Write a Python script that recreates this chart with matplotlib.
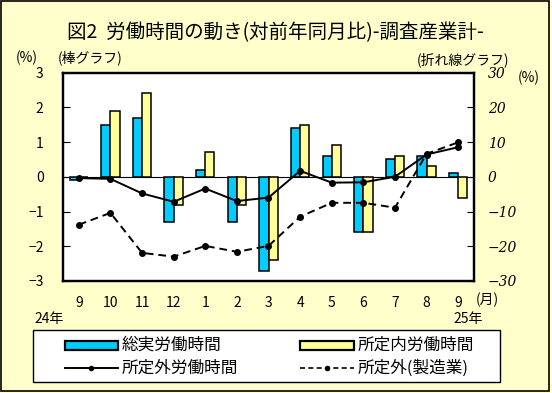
import numpy as np
import matplotlib
matplotlib.use('Agg')
import matplotlib.pyplot as plt
from matplotlib.patches import Rectangle
from matplotlib.lines import Line2D

plt.rcParams['font.family'] = ['Noto Sans CJK JP', 'DejaVu Sans']

# data
months = ['9', '10', '11', '12', '1', '2', '3', '4', '5', '6', '7', '8', '9']
total_hours = [-0.1, 1.5, 1.7, -1.3, 0.2, -1.3, -2.7, 1.4, 0.6, -1.6, 0.5, 0.6, 0.1]
scheduled_hours = [0.0, 1.9, 2.4, -0.8, 0.7, -0.8, -2.4, 1.5, 0.9, -1.6, 0.6, 0.3, -0.6]
overtime = [-0.4, -0.6, -4.8, -7.2, -3.4, -7.0, -6.0, 1.7, -1.7, -1.6, 0.0, 6.4, 8.5]
overtime_mfg = [-13.8, -10.4, -21.9, -23.0, -19.9, -21.6, -19.9, -11.5, -7.5, -7.5, -8.9, 6.6, 9.9]
legend_labels = ['総実労働時間', '所定内労働時間', '所定外労働時間', '所定外(製造業)']

W, H = 552, 393
bg = '#FFFFCC'
blue = '#00CCFF'
yellow = '#FFFF99'

fig = plt.figure(figsize=(W / 100, H / 100), dpi=100, facecolor=bg)

def fx(px):
    return px / W

def fy(py):
    return 1 - py / H

ax = fig.add_axes([fx(63), fy(281), fx(474) - fx(63), fy(72.5) - fy(281)])
ax.set_facecolor('white')

x = np.arange(len(months))
bw = 0.29
ax.bar(x - bw / 2, total_hours, bw, color=blue, edgecolor='black', linewidth=1.1, zorder=2)
ax.bar(x + bw / 2, scheduled_hours, bw, color=yellow, edgecolor='black', linewidth=1.1, zorder=2)
ax.axhline(0, color='black', linewidth=0.8, zorder=1)
ax.set_xlim(-0.5, len(months) - 0.5)
ax.set_ylim(-3, 3)
ax.set_yticks([-3, -2, -1, 0, 1, 2, 3])
ax.set_yticklabels(['\u22123', '\u22122', '\u22121', '0', '1', '2', '3'])
ax.tick_params(axis='y', direction='in', length=5, width=0.8, pad=14, labelsize=10)
ax.set_xticks(x)
ax.set_xticklabels(months)
ax.tick_params(axis='x', length=0, pad=11, labelsize=10)
for s in ax.spines.values():
    s.set_linewidth(1.6)

ax2 = ax.twinx()
ax2.plot(x, overtime, color='black', linewidth=1.4, marker='o', markersize=4, zorder=3)
ax2.plot(x, overtime_mfg, color='black', linewidth=1.4, linestyle=(0, (4, 2.5)),
         marker='o', markersize=4, zorder=3)
ax2.set_ylim(-30, 30)
ax2.set_yticks([-30, -20, -10, 0, 10, 20, 30])
ax2.set_yticklabels(['\u221230', '\u221220', '\u221210', '0', '10', '20', '30'],
                    fontstyle='italic', family='DejaVu Serif')
ax2.tick_params(axis='y', direction='in', length=5, width=0.8, pad=10, labelsize=10)
for s in ax2.spines.values():
    s.set_linewidth(1.6)

# titles and annotations
fig.text(fx(275), fy(33), '図2  労働時間の動き(対前年同月比)-調査産業計-',
         ha='center', va='center', fontsize=14)
fig.text(fx(27), fy(58), '(%)', ha='center', va='center', fontsize=10)
fig.text(fx(58), fy(58), '(棒グラフ)', ha='left', va='center', fontsize=10)
fig.text(fx(509), fy(60), '(折れ線グラフ)', ha='right', va='center', fontsize=10)
fig.text(fx(529), fy(78), '(%)', ha='center', va='center', fontsize=10)
fig.text(fx(487), fy(300), '(月)', ha='center', va='center', fontsize=10)
fig.text(fx(49), fy(319), '24年', ha='center', va='center', fontsize=10)
fig.text(fx(468), fy(319), '25年', ha='center', va='center', fontsize=10)

# legend box drawn by hand to match the original layout
fig.patches.append(Rectangle((fx(33), fy(382)), fx(500) - fx(33), fy(330) - fy(382),
                             transform=fig.transFigure, facecolor='white',
                             edgecolor='black', linewidth=1.0))
fig.patches.append(Rectangle((fx(65), fy(349.5)), fx(118) - fx(65), fy(341) - fy(349.5),
                             transform=fig.transFigure, facecolor=blue,
                             edgecolor='black', linewidth=1.6))
fig.patches.append(Rectangle((fx(300), fy(349.5)), fx(354) - fx(300), fy(341) - fy(349.5),
                             transform=fig.transFigure, facecolor=yellow,
                             edgecolor='black', linewidth=1.6))
fig.lines.append(Line2D([fx(65), fx(91.5), fx(118)], [fy(368)] * 3, transform=fig.transFigure,
                        color='black', linewidth=1.4, marker='o', markersize=3,
                        markevery=[1]))
fig.lines.append(Line2D([fx(300), fx(327), fx(354)], [fy(368)] * 3, transform=fig.transFigure,
                        color='black', linewidth=1.2, linestyle=(0, (3, 2)), marker='o',
                        markersize=3, markevery=[1]))
fig.text(fx(122), fy(345), legend_labels[0], ha='left', va='center', fontsize=12)
fig.text(fx(358), fy(345), legend_labels[1], ha='left', va='center', fontsize=12)
fig.text(fx(122), fy(368), legend_labels[2], ha='left', va='center', fontsize=12)
fig.text(fx(358), fy(368), legend_labels[3], ha='left', va='center', fontsize=12)

fig.patches.append(Rectangle((fx(1), fy(391)), fx(549) - fx(1), fy(1) - fy(391),
                             transform=fig.transFigure, fill=False,
                             edgecolor='black', linewidth=1.2))

fig.savefig('out.png', dpi=100, facecolor=bg)
